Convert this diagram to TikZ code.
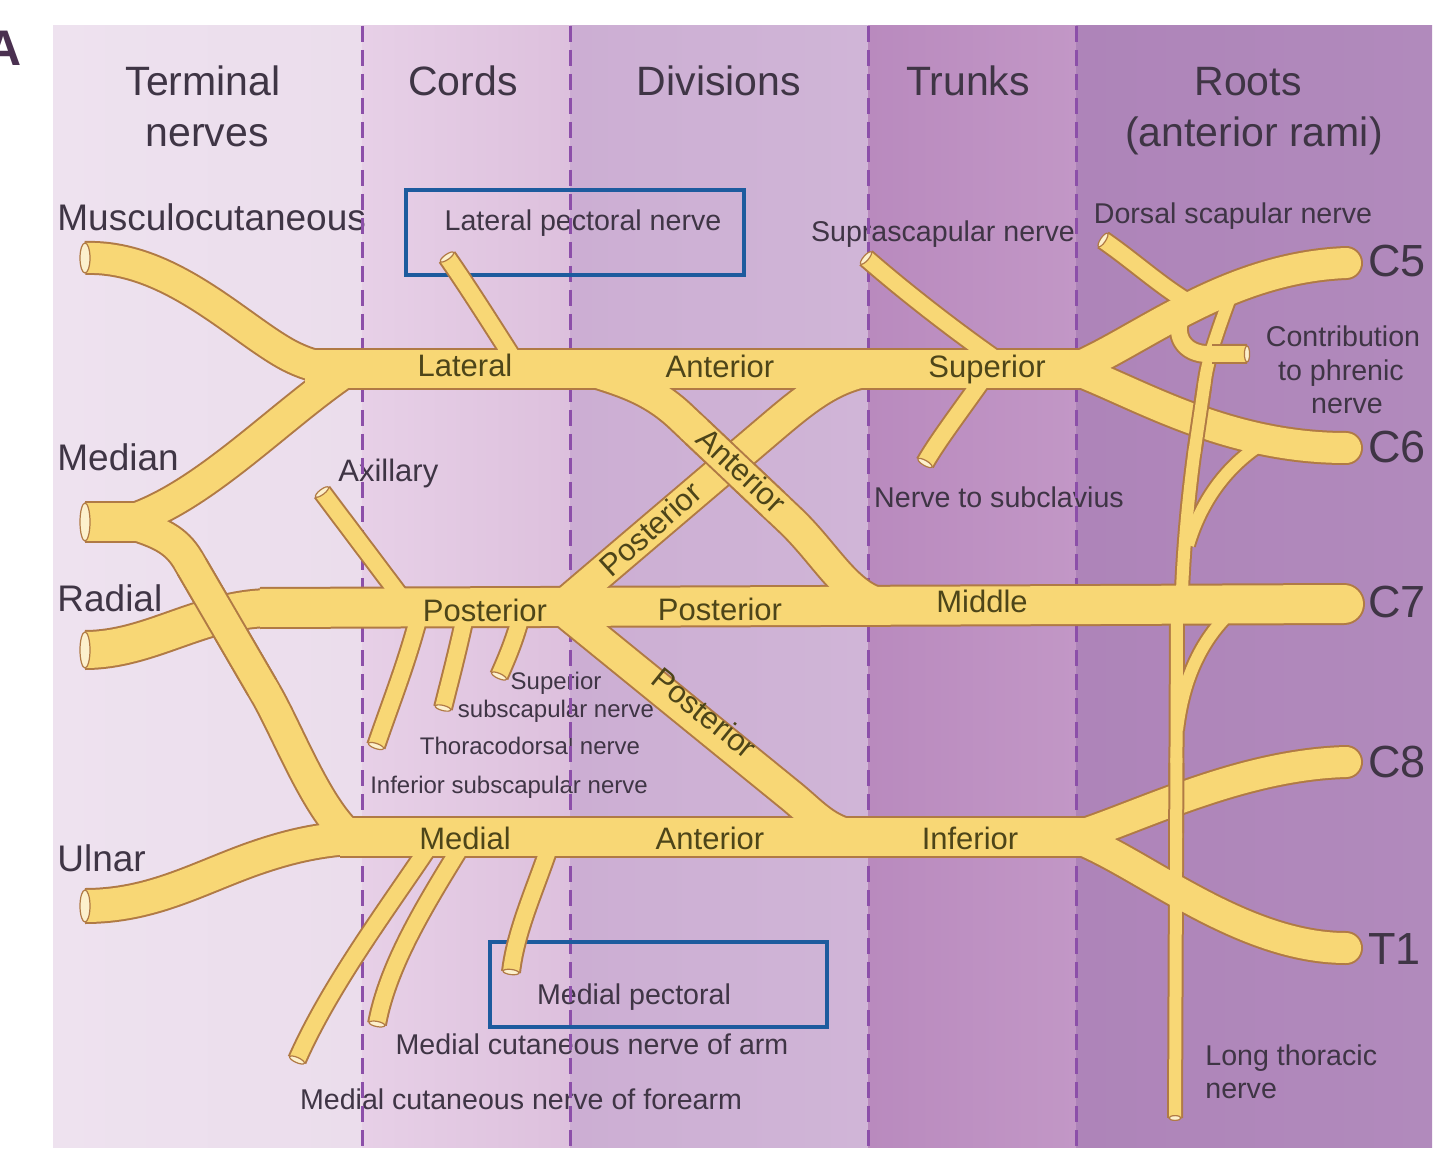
\documentclass[tikz,border=0pt]{standalone}
\usepackage{fontspec}
\setmainfont{Liberation Sans}
\usetikzlibrary{calc}
\definecolor{bgAl}{HTML}{EEE2EF}\definecolor{bgAr}{HTML}{EBDDEC}
\definecolor{bgBl}{HTML}{E7D0E7}\definecolor{bgBr}{HTML}{DDC0DD}
\definecolor{bgCl}{HTML}{CCAED3}\definecolor{bgCr}{HTML}{D0B5D7}
\definecolor{bgDl}{HTML}{B98ABE}\definecolor{bgDr}{HTML}{C297C6}
\definecolor{bgEl}{HTML}{AE84B9}\definecolor{bgEr}{HTML}{B18ABC}
\definecolor{dashc}{HTML}{8C4FA9}
\definecolor{txtc}{HTML}{3F3545}
\definecolor{bandtxt}{HTML}{4D4519}
\definecolor{nfill}{HTML}{F8D775}
\definecolor{nout}{HTML}{B07A45}
\definecolor{ncut}{HTML}{FCF0CC}
\definecolor{boxc}{HTML}{1D5B9E}
\definecolor{Acol}{HTML}{4A3050}
\newcommand\cutend[4]{\draw[cutst, rotate around={#2:(#1)}] (#1) ellipse [x radius=#3, y radius=#4];}
\begin{document}
\begin{tikzpicture}[x=0.5pt,y=-0.5pt,
  txz/.style={inner sep=0pt, text height=0.7em, text depth=0pt, text=txtc},
  tx/.style={txz, yshift=-3.5pt},
  hd/.style={tx, font=\fontsize{20.5}{24}\selectfont},
  tn/.style={tx, font=\fontsize{18.5}{22}\selectfont, anchor=west},
  bl/.style={txz, yshift=-2pt, font=\fontsize{15.5}{18}\selectfont, text=bandtxt},
  sl/.style={tx, font=\fontsize{14.3}{17}\selectfont},
  tl/.style={tx, font=\fontsize{12}{14}\selectfont},
  rl/.style={tx, font=\fontsize{22.5}{26}\selectfont, anchor=west},
  dsh/.style={draw=dashc, line width=1.5pt, dash pattern=on 8pt off 4pt},
  bluebox/.style={draw=boxc, line width=2pt},
  nMo/.style={draw=nout, line width=21pt, line join=round},
  nMf/.style={draw=nfill, line width=19pt, line join=round},
  nRo/.style={draw=nout, line width=17pt, line join=round},
  nRf/.style={draw=nfill, line width=15pt, line join=round},
  nAo/.style={draw=nout, line width=20pt, line join=round},
  nAf/.style={draw=nfill, line width=18pt, line join=round},
  nUo/.style={draw=nout, line width=18pt, line join=round},
  nUf/.style={draw=nfill, line width=16pt, line join=round},
  nTo/.style={draw=nout, line width=10pt, line join=round},
  nTf/.style={draw=nfill, line width=8pt, line join=round},
  nLo/.style={draw=nout, line width=8pt, line join=round},
  nLf/.style={draw=nfill, line width=6pt, line join=round},
  cutst/.style={draw=nout, fill=ncut, line width=0.6pt}]
\useasboundingbox (0,0) rectangle (1440,1160);
\fill[white] (0,0) rectangle (1440,1160);
% column backgrounds
\fill[left color=bgAl, right color=bgAr] (53,26) rectangle (362,1147);
\fill[left color=bgBl, right color=bgBr] (362,26) rectangle (570,1147);
\fill[left color=bgCl, right color=bgCr] (570,26) rectangle (868,1147);
\fill[left color=bgDl, right color=bgDr] (868,26) rectangle (1076,1147);
\fill[left color=bgEl, right color=bgEr] (1076,26) rectangle (1432,1147);
\node[font=\bfseries\fontsize{25}{28}\selectfont, text=Acol, inner sep=0pt] (lblA) at (4,48) {A};
% headers
\node[hd] (hT1) at (203,82) {Terminal};
\node[hd] (hT2) at (207,133) {nerves};
\node[hd] (hC) at (463,82) {Cords};
\node[hd] (hD) at (719,82) {Divisions};
\node[hd] (hTr) at (968,82) {Trunks};
\node[hd] (hR1) at (1248,82) {Roots};
\node[hd] (hR2) at (1254,133) {(anterior rami)};
% terminal nerve labels
\node[tn] (tMusc) at (57,217) {Musculocutaneous};
\node[tn] (tMed) at (57,457) {Median};
\node[tn] (tRad) at (57,597) {Radial};
\node[tn] (tUln) at (57,857) {Ulnar};
% small labels
\node[sl] (sLP) at (583,217) {Lateral pectoral nerve};
\node[sl] (sSS) at (943,228) {Suprascapular nerve};
\node[sl] (sDS) at (1233,210) {Dorsal scapular nerve};
\node[sl] (sPh1) at (1343,333) {Contribution};
\node[sl] (sPh2) at (1341,367) {to phrenic};
\node[sl] (sPh3) at (1347,400) {nerve};
\node[sl] (sNS) at (999,494) {Nerve to subclavius};
\node[tx, font=\fontsize{15.5}{18}\selectfont, anchor=west] (sAx) at (338,467) {Axillary};
\node[tl] (sSSS1) at (556,675) {Superior};
\node[tl] (sSSS2) at (556,703) {subscapular nerve};
\node[tl] (sTD) at (530,740) {Thoracodorsal nerve};
\node[tl] (sISS) at (509,779) {Inferior subscapular nerve};
\node[sl] (sMP) at (634,990) {Medial pectoral};
\node[sl] (sMCA) at (592,1040) {Medial cutaneous nerve of arm};
\node[sl] (sMCF) at (521,1095) {Medial cutaneous nerve of forearm};
\node[sl, anchor=west] (sLT1) at (1205,1051) {Long thoracic};
\node[sl, anchor=west] (sLT2) at (1205,1084) {nerve};
% root labels
\node[rl] (rC5) at (1368,263) {C5};
\node[rl] (rC6) at (1368,448) {C6};
\node[rl] (rC7) at (1368,603) {C7};
\node[rl] (rC8) at (1368,763) {C8};
\node[rl] (rT1) at (1368,950) {T1};
% dashed separators
\foreach \xx in {362,570,868,1076} \draw[dsh] (\xx,26) -- (\xx,1147);
% blue boxes
\draw[bluebox] (406,190) rectangle (744,275);
\draw[bluebox] (490,942) rectangle (827,1027);
% ---------- nerve paths ----------
\def\pTop{(305,369) -- (1095,369)}
\def\pPost{(260,608) -- (1100,605)}
\def\pCseven{(1100,605) -- (1344,604)}
\def\pMedc{(340,837) -- (1095,837)}
\def\pMedT{(85,522) -- (150,522)}
\def\pMusc{(85,258) .. controls (170,255) and (240,330) .. (290,356) .. controls (310,366) and (325,369) .. (345,369)}
\def\pMedU{(125,522) .. controls (200,500) and (275,420) .. (345,372)}
\def\pMedL{(125,522) .. controls (160,532) and (176,540) .. (188,560) -- (266,694) .. controls (288,732) and (318,812) .. (352,838)}
\def\pRad{(85,650) .. controls (150,650) and (200,609) .. (270,608)}
\def\pUln{(85,906) .. controls (150,906) and (195,880) .. (250,860) .. controls (295,844) and (330,837) .. (380,837)}
\def\pAnt{(585,369) .. controls (620,380) and (650,388) .. (680,416) -- (790,520) .. controls (830,558) and (850,605) .. (895,606)}
\def\pPS{(555,612) -- (770,429) .. controls (810,395) and (840,370) .. (890,369)}
\def\pPI{(560,608) -- (790,795) .. controls (815,815) and (830,837) .. (870,837)}
\def\pCfive{(1065,372) .. controls (1130,350) and (1220,268) .. (1346,263)}
\def\pCsix{(1065,366) .. controls (1130,388) and (1220,448) .. (1346,448)}
\def\pCeight{(1065,840) .. controls (1130,822) and (1235,765) .. (1346,762)}
\def\pTone{(1065,834) .. controls (1130,852) and (1235,948) .. (1346,948)}
\def\pAx{(322,492) -- (410,609)}
\def\pLP{(447,257) .. controls (470,290) and (495,330) .. (520,369)}
\def\pISS{(420,612) .. controls (408,660) and (390,705) .. (376,746)}
\def\pTD{(466,612) .. controls (458,650) and (450,680) .. (443,708)}
\def\pSSS{(522,612) .. controls (515,640) and (506,660) .. (499,676)}
\def\pMCF{(430,845) .. controls (390,905) and (330,985) .. (297,1060)}
\def\pMCA{(462,845) .. controls (425,905) and (388,965) .. (377,1024)}
\def\pMP{(550,845) .. controls (535,890) and (516,930) .. (511,972)}
\def\pSS{(866,258) .. controls (905,292) and (960,335) .. (1010,369)}
\def\pNS{(990,369) .. controls (965,405) and (938,440) .. (925,463)}
\def\pDS{(1103,240) .. controls (1135,262) and (1165,290) .. (1195,306)}
\def\pPh{(1185,310) .. controls (1172,330) and (1180,352) .. (1205,354) -- (1247,354)}
\def\pLT{(1232,292) .. controls (1218,330) and (1208,358) .. (1205,380) -- (1194,455) .. controls (1188,500) and (1184,545) .. (1182,590) -- (1177,618) -- (1175,1118)}
\def\pLTsix{(1268,440) .. controls (1230,462) and (1202,498) .. (1188,545)}
\def\pLTseven{(1245,600) .. controls (1208,628) and (1184,670) .. (1177,730)}
% outline pass
\draw[nMo] \pTop; \draw[nMo] \pPost; \draw[nMo] \pMedc; \draw[nMo] \pMedT;
\draw[nMo, line cap=round] \pCseven;
\draw[nRo] \pMusc; \draw[nRo] \pMedU; \draw[nRo] \pMedL;
\draw[nAo] \pRad; \draw[nUo] \pUln;
\draw[nRo] \pAnt; \draw[nRo] \pPS; \draw[nRo] \pPI;
\draw[nRo, line cap=round] \pCfive; \draw[nRo, line cap=round] \pCsix;
\draw[nRo, line cap=round] \pCeight; \draw[nRo, line cap=round] \pTone;
\draw[nTo] \pAx; \draw[nTo] \pLP; \draw[nTo] \pISS; \draw[nTo] \pTD; \draw[nTo] \pSSS;
\draw[nTo] \pMCF; \draw[nTo] \pMCA; \draw[nTo] \pMP;
\draw[nTo] \pSS; \draw[nTo] \pNS; \draw[nTo] \pDS; \draw[nTo] \pPh;
\draw[nLo] \pLT; \draw[nLo] \pLTsix; \draw[nLo] \pLTseven;
% fill pass
\draw[nMf] \pTop; \draw[nMf] \pPost; \draw[nMf] \pMedc; \draw[nMf] \pMedT;
\draw[nMf, line cap=round] \pCseven;
\draw[nRf] \pMusc; \draw[nRf] \pMedU; \draw[nRf] \pMedL;
\draw[nAf] \pRad; \draw[nUf] \pUln;
\draw[nRf] \pAnt; \draw[nRf] \pPS; \draw[nRf] \pPI;
\draw[nRf, line cap=round] \pCfive; \draw[nRf, line cap=round] \pCsix;
\draw[nRf, line cap=round] \pCeight; \draw[nRf, line cap=round] \pTone;
\draw[nTf] \pAx; \draw[nTf] \pLP; \draw[nTf] \pISS; \draw[nTf] \pTD; \draw[nTf] \pSSS;
\draw[nTf] \pMCF; \draw[nTf] \pMCA; \draw[nTf] \pMP;
\draw[nTf] \pSS; \draw[nTf] \pNS; \draw[nTf] \pDS; \draw[nTf] \pPh;
\draw[nLf] \pLT; \draw[nLf] \pLTsix; \draw[nLf] \pLTseven;
% crossings drawn on top (fill slightly longer than outline to hide seams)
\def\pAntX{($(680,416)!0.15!(790,520)$) -- ($(680,416)!0.85!(790,520)$)}
\def\pAntXf{($(680,416)!0.10!(790,520)$) -- ($(680,416)!0.90!(790,520)$)}
\def\pMedLX{($(188,560)!0.05!(266,694)$) -- ($(188,560)!0.95!(266,694)$)}
\def\pMedLXf{($(188,560)!0.0!(266,694)$) -- ($(188,560)!1.0!(266,694)$)}
\def\pLTX{($(1205,380)!0.08!(1194,455)$) -- ($(1205,380)!0.92!(1194,455)$)}
\def\pLTXf{($(1205,380)!0.02!(1194,455)$) -- ($(1205,380)!0.98!(1194,455)$)}
\def\pLTXb{($(1177,618)!0.29!(1175,1118)$) -- ($(1177,618)!0.43!(1175,1118)$)}
\def\pLTXbf{($(1177,618)!0.28!(1175,1118)$) -- ($(1177,618)!0.44!(1175,1118)$)}
\def\pPhX{(1212,354) -- (1247,354)}
\def\pPhXf{(1206,354) -- (1247,354)}
\draw[nRo] \pAntX; \draw[nRf] \pAntXf;
\draw[nRo] \pMedLX; \draw[nRf] \pMedLXf;
\draw[nLo] \pLTX; \draw[nLf] \pLTXf;
\draw[nLo] \pLTXb; \draw[nLf] \pLTXbf;
\draw[nTo] \pPhX; \draw[nTf] \pPhXf;
% cut ends
\cutend{85,258}{0}{2.5pt}{7.5pt}
\cutend{85,522}{0}{2.5pt}{9.5pt}
\cutend{85,650}{0}{2.5pt}{9pt}
\cutend{85,906}{0}{2.5pt}{8pt}
\cutend{447,257}{-55}{1.3pt}{4pt}
\cutend{322,492}{-53}{1.3pt}{4pt}
\cutend{376,746}{71}{1.3pt}{4pt}
\cutend{443,708}{76}{1.3pt}{4pt}
\cutend{499,676}{66}{1.3pt}{4pt}
\cutend{297,1060}{66}{1.3pt}{4pt}
\cutend{377,1024}{79}{1.3pt}{4pt}
\cutend{511,972}{83}{1.3pt}{4pt}
\cutend{866,258}{-41}{1.3pt}{4pt}
\cutend{925,463}{60}{1.3pt}{4pt}
\cutend{1103,240}{-34}{1.3pt}{4pt}
\cutend{1247,354}{0}{1.3pt}{4pt}
\cutend{1175,1118}{90}{1.2pt}{3pt}
% band labels
\node[bl] (bLat) at (465,366) {Lateral};
\node[bl] (bAnt1) at (720,367) {Anterior};
\node[bl] (bSup) at (987,367) {Superior};
\node[bl] (bPost1) at (485,610) {Posterior};
\node[bl] (bPost2) at (720,609) {Posterior};
\node[bl] (bMid) at (982,601) {Middle};
\node[bl] (bMedl) at (465,838) {Medial};
\node[bl] (bAnt2) at (710,838) {Anterior};
\node[bl] (bInf) at (970,838) {Inferior};
\node[bl, rotate=-43] (bAntD) at (739,469) {Anterior};
\node[bl, rotate=42] (bPostS) at (653,528) {Posterior};
\node[bl, rotate=-39] (bPostI) at (702,712) {Posterior};
\end{tikzpicture}
\end{document}
